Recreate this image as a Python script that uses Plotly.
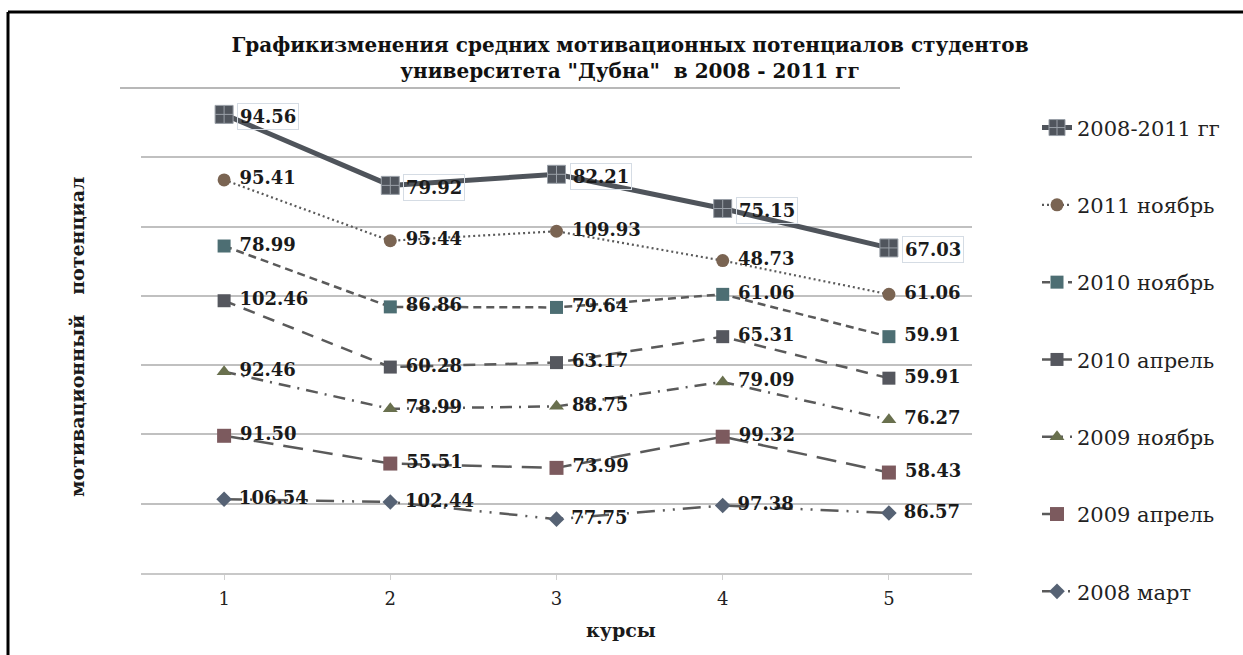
import numpy as np
import plotly.graph_objects as go

# ---------------- data ----------------
courses = [1, 2, 3, 4, 5]
course_labels = ["1", "2", "3", "4", "5"]

mar_2008 = [106.54, 102.44, 77.75, 97.38, 86.57]
apr_2009 = [91.50, 55.51, 73.99, 99.32, 58.43]
nov_2009 = [92.46, 78.99, 88.75, 79.09, 76.27]
apr_2010 = [102.46, 60.28, 63.17, 65.31, 59.91]
nov_2010 = [78.99, 86.86, 79.64, 61.06, 59.91]
nov_2011 = [95.41, 95.44, 109.93, 48.73, 61.06]
avg_2008_2011 = [94.56, 79.92, 82.21, 75.15, 67.03]

series_names = ["2008 март", "2009 апрель", "2009 ноябрь", "2010 апрель",
                "2010 ноябрь", "2011 ноябрь", "2008-2011 гг"]
series_values = [mar_2008, apr_2009, nov_2009, apr_2010, nov_2010, nov_2011, avg_2008_2011]

title_text = ("Графикизменения средних мотивационных потенциалов студентов<br>"
              "университета \"Дубна\"  в 2008 - 2011 гг")
y_title = "мотивационный   потенциал"
x_title = "курсы"

# ---------------- styles ----------------
SERIF = "DejaVu Serif, serif"
styles = {
    "2008 март":    dict(symbol="diamond", size=12, color="#566274", dash="18px,8px,2px,8px,2px,8px", lw=2.5),
    "2009 апрель":  dict(symbol="square", size=14, color="#7c5a5e", dash="20px,10px", lw=2.5),
    "2009 ноябрь":  dict(symbol="triangle-up", size=13, color="#69704e", dash="12px,7px,2px,7px", lw=2.5),
    "2010 апрель":  dict(symbol="square", size=13, color="#55575e", dash="12px,9px", lw=2.5),
    "2010 ноябрь":  dict(symbol="square", size=13, color="#4d6e73", dash="8px,5px", lw=2.5),
    "2011 ноябрь":  dict(symbol="circle", size=13, color="#7a6452", dash="2px,3px", lw=2.2),
}

fig = go.Figure()

n = len(series_names)
for i, (name, vals) in enumerate(zip(series_names, series_values)):
    rank = n - i
    if name == "2008-2011 гг":
        fig.add_trace(go.Scatter(
            x=courses, y=vals, name=name, stackgroup="one", fill="none",
            mode="lines+markers", legendgroup=name, legendrank=rank,
            line=dict(color="#4f545b", width=5),
            marker=dict(symbol="square-cross", size=18, color="#50555d",
                        line=dict(color="#9aa0a8", width=1)),
            hoverinfo="skip",
        ))
    else:
        st = styles[name]
        fig.add_trace(go.Scatter(
            x=courses, y=vals, name=name, stackgroup="one", fill="none",
            mode="lines+markers+text", legendgroup=name, legendrank=rank,
            text=[f" {v:.2f}" for v in vals], textposition="middle right",
            textfont=dict(family=SERIF, size=18, color="#1a1a1a", weight="bold"),
            line=dict(color="#5a5a5a", width=st["lw"], dash=st["dash"]),
            marker=dict(symbol=st["symbol"], size=st["size"], color=st["color"]),
            hoverinfo="skip",
        ))

# boxed labels for top (total) series
totals = np.sum(np.array(series_values), axis=0)
for xi, tot, v in zip(courses, totals, avg_2008_2011):
    fig.add_annotation(
        x=xi, y=tot, xref="x", yref="y", text=f"{v:.2f}", showarrow=False,
        xanchor="left", yanchor="middle", xshift=13, yshift=-2,
        font=dict(family=SERIF, size=18, color="#1a1a1a", weight="bold"),
        bordercolor="#d5dce4", borderwidth=1, borderpad=2, bgcolor="rgba(255,255,255,0)",
    )

# axis titles
fig.add_annotation(
    x=(77 - 141) / 831, y=(573 - 337) / 485, xref="paper", yref="paper", text=y_title,
    textangle=-90, showarrow=False, xanchor="center", yanchor="middle",
    font=dict(family=SERIF, size=19, color="#1a1a1a", weight="bold"),
)
fig.add_annotation(
    x=(621 - 141) / 831, y=(573 - 630) / 485, xref="paper", yref="paper", text=x_title,
    showarrow=False, xanchor="center", yanchor="middle",
    font=dict(family=SERIF, size=19, color="#1a1a1a", weight="bold"),
)

# top rule line under the title and outer frame
fig.add_shape(type="line", xref="paper", yref="paper",
              x0=(120 - 141) / 831, x1=(900 - 141) / 831, y0=1, y1=1,
              line=dict(color="#b8b8b8", width=2))
fig.add_shape(type="line", xref="paper", yref="paper",
              x0=(8 - 141) / 831, x1=(1250 - 141) / 831,
              y0=(573 - 12) / 485, y1=(573 - 12) / 485,
              line=dict(color="#000000", width=3))
fig.add_shape(type="line", xref="paper", yref="paper",
              x0=(8 - 141) / 831, x1=(8 - 141) / 831,
              y0=(573 - 12) / 485, y1=(573 - 660) / 485,
              line=dict(color="#000000", width=3))

fig.update_layout(
    width=1243, height=655,
    margin=dict(l=141, r=271, t=88, b=82),
    paper_bgcolor="white", plot_bgcolor="white",
    title=dict(text=title_text, x=(630 - 141) / 831, xref="paper", xanchor="center",
               y=(655 - 52) / 655, yref="container", yanchor="middle",
               font=dict(family=SERIF, size=20, color="#111111", weight="bold")),
    legend=dict(x=(1037 - 141) / 831, xanchor="left", y=0.96, yanchor="top",
                traceorder="grouped", tracegroupgap=47, maxheight=640,
                font=dict(family=SERIF, size=21, color="#222222"),
                bgcolor="rgba(0,0,0,0)"),
    showlegend=True,
)
fig.update_xaxes(range=[0.5, 5.5], tickvals=courses, ticktext=course_labels,
                 showgrid=False, zeroline=False, showline=True,
                 linecolor="#c8c8c8", linewidth=2,
                 ticks="outside", ticklen=5, tickcolor="#d0d0d0",
                 ticklabelstandoff=3,
                 tickfont=dict(family=SERIF, size=18, color="#222222"))
fig.update_yaxes(range=[0, 700], tickvals=[100, 200, 300, 400, 500, 600],
                 showticklabels=False, showgrid=True, gridcolor="#c0c0c0", gridwidth=2,
                 zeroline=False, showline=False)

fig.write_html("out.html", config={"displayModeBar": False},
               post_script="document.body.style.margin='0px';")
